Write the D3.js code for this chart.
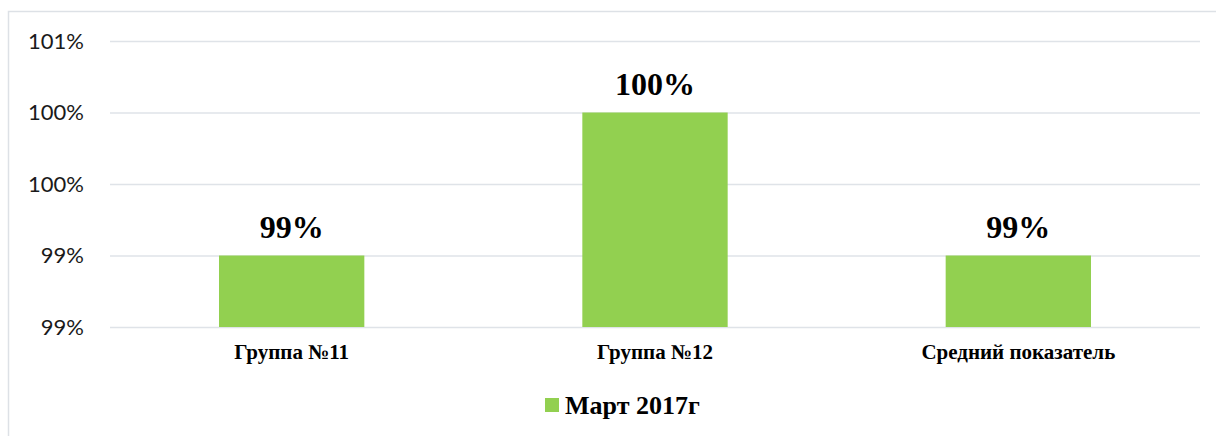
<!DOCTYPE html>
<html>
<head>
<meta charset="utf-8">
<script src="https://cdn.jsdelivr.net/npm/d3@7"></script>
<style>
  body { margin: 0; background: #fff; }
  svg { display: block; }
</style>
</head>
<body>
<div id="chart"></div>
<script>
// data
var categories = ['Группа №11', 'Группа №12', 'Средний показатель'];
var values = [0.994, 1.002, 0.994];
var dataLabels = ['99%', '100%', '99%'];
var yTicks = [0.990, 0.994, 0.998, 1.002, 1.006];
var seriesName = 'Март 2017г';

var W = 1216, H = 436;
var margin = {top: 41, right: 16, bottom: 109, left: 110};
var green = '#92d050';

var svg = d3.select('#chart').append('svg')
	.attr('width', W)
	.attr('height', H);

// chart frame
svg.append('path')
	.attr('d', 'M8.5,' + H + 'V11.5H' + W)
	.attr('fill', 'none')
	.attr('stroke', '#dde1e6')
	.attr('stroke-width', 1.5);

var x = d3.scaleBand()
	.domain(categories)
	.range([margin.left, W - margin.right])
	.paddingInner(0.6)
	.paddingOuter(0.3);

var y = d3.scaleLinear()
	.domain([yTicks[0], yTicks[yTicks.length - 1]])
	.range([H - margin.bottom, margin.top]);

var fmt = d3.format('.0%');

// gridlines + y labels
var yAxis = svg.append('g')
	.attr('transform', 'translate(' + margin.left + ',0)')
	.call(d3.axisLeft(y).tickValues(yTicks).tickSize(-(W - margin.left - margin.right)).tickFormat(fmt).tickPadding(26));
yAxis.select('.domain').remove();
yAxis.selectAll('.tick line').attr('stroke', '#dfe3e8').attr('stroke-width', 1.5);
yAxis.selectAll('.tick text')
	.attr('fill', '#1a1a1a')
	.style('font-family', 'Lato, "Open Sans", sans-serif')
	.style('font-size', '22px');

// bars
svg.append('g').selectAll('rect')
	.data(values)
	.join('rect')
	.attr('x', function (d, i) { return x(categories[i]); })
	.attr('width', x.bandwidth())
	.attr('y', function (d) { return y(d); })
	.attr('height', function (d) { return y(yTicks[0]) - y(d); })
	.attr('fill', green);

// data labels
svg.append('g').selectAll('text')
	.data(values)
	.join('text')
	.attr('x', function (d, i) { return x(categories[i]) + x.bandwidth() / 2; })
	.attr('y', function (d) { return y(d) - 18; })
	.attr('text-anchor', 'middle')
	.style('font-family', '"Liberation Serif", "Times New Roman", serif')
	.style('font-weight', 'bold')
	.style('font-size', '32px')
	.text(function (d, i) { return dataLabels[i]; });

// category labels
var xAxis = svg.append('g')
	.attr('transform', 'translate(0,' + (H - margin.bottom) + ')')
	.call(d3.axisBottom(x).tickSize(0).tickPadding(17));
xAxis.select('.domain').remove();
xAxis.selectAll('.tick text')
	.attr('fill', '#000')
	.style('font-family', '"Liberation Serif", "Times New Roman", serif')
	.style('font-weight', 'bold')
	.style('font-size', '21px');

// legend
var legend = svg.append('g').attr('transform', 'translate(545,414)');
legend.append('rect')
	.attr('x', 0).attr('y', -16)
	.attr('width', 14).attr('height', 14)
	.attr('fill', green);
legend.append('text')
	.attr('x', 20).attr('y', 0)
	.style('font-family', '"Liberation Serif", "Times New Roman", serif')
	.style('font-weight', 'bold')
	.style('font-size', '26px')
	.text(seriesName);
</script>
</body>
</html>
